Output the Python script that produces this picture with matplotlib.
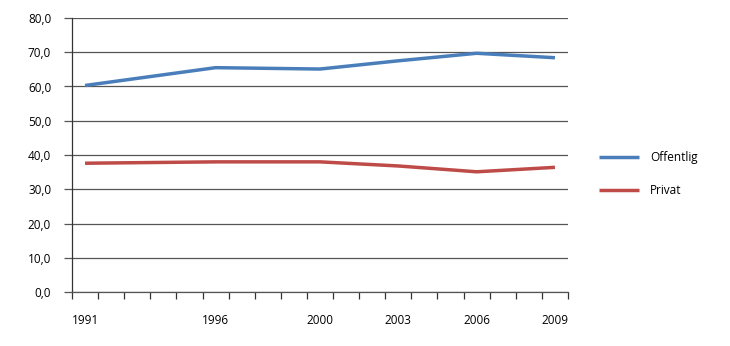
import numpy as np
import matplotlib.pyplot as plt

plt.rcParams['font.family'] = ['Open Sans', 'DejaVu Sans']

# all years form the category axis, only survey years carry values
years = list(range(1991, 2010))
survey_years = [1991, 1996, 2000, 2003, 2006, 2009]
offentlig = [60.3, 65.5, 65.1, 67.5, 69.7, 68.4]
privat = [37.6, 38.0, 38.0, 36.8, 35.1, 36.4]
yticks = [0, 10, 20, 30, 40, 50, 60, 70, 80]

fig = plt.figure(figsize=(7.3, 3.46), dpi=100)
ax = fig.add_axes([0.0986, 0.156, 0.6795, 0.792])

xpos = [years.index(y) for y in survey_years]
ax.plot(xpos, offentlig, color='#4A7EBB', lw=2.5, solid_capstyle='butt', label='Offentlig')
ax.plot(xpos, privat, color='#BE4B48', lw=2.5, solid_capstyle='butt', label='Privat')

ax.set_xlim(-0.5, len(years) - 0.5)
ax.set_ylim(0, 80)

ax.set_yticks(yticks)
ax.set_yticklabels([f'{v:.1f}'.replace('.', ',') for v in yticks], fontsize=8.5)
ax.yaxis.grid(True, color='#555555', lw=0.9)
ax.set_axisbelow(True)
ax.tick_params(axis='y', length=6, width=0.9, color='#555555', pad=9)

# ticks sit between categories, labels at category centres
ax.set_xticks(np.arange(-0.5, len(years)), minor=False)
ax.set_xticklabels([])
ax.set_xticks(xpos, minor=True)
ax.set_xticklabels([str(y) for y in survey_years], minor=True, fontsize=8.5)
ax.tick_params(axis='x', which='major', length=5, width=0.9, color='#333333', direction='out')
ax.tick_params(axis='x', which='minor', length=0, pad=16)

for s in ['top', 'right']:
    ax.spines[s].set_visible(False)
ax.spines['left'].set_color('#333333')
ax.spines['bottom'].set_color('#555555')
ax.spines['left'].set_linewidth(0.9)
ax.spines['bottom'].set_linewidth(0.9)

fig.legend(loc='center left', bbox_to_anchor=(0.806, 0.497), frameon=False,
           fontsize=8.5, handlelength=3.4, handletextpad=0.9, labelspacing=1.65)

fig.savefig('out.png', dpi=100)
